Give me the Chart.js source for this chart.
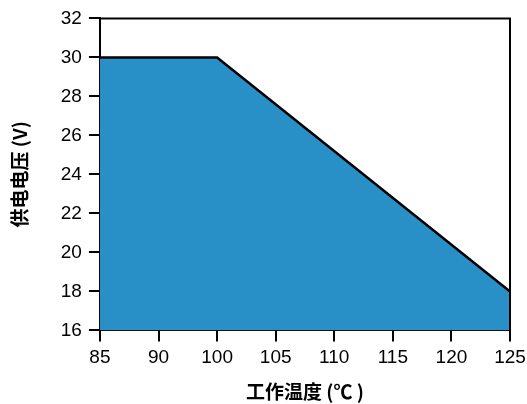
<!DOCTYPE html>
<html>
<head>
<meta charset="utf-8">
<script src="https://cdn.jsdelivr.net/npm/chart.js@4.4.0/dist/chart.umd.min.js"></script>
<style>
  body { margin: 0; background: #fff; }
  #wrap { width: 527px; height: 404px; }
</style>
</head>
<body>
<div id="wrap"><canvas id="grafico"></canvas></div>
<script>
// temperatura (categorias do eixo x)
var temperaturas = ['85', '90', '100', '105', '110', '115', '120', '125'];
// pontos da curva de tensão
var pontosTemp = ['85', '100', '125'];
var pontosTensao = [30, 30, 18];
var yMin = 16, yMax = 32, yPasso = 2;

var dados = [];
for (var i = 0; i < pontosTemp.length; i++) {
    dados.push({ x: pontosTemp[i], y: pontosTensao[i] });
}

// moldura (topo e direita)
var moldura = {
    id: 'moldura',
    afterDraw: function (chart) {
        var a = chart.chartArea;
        var ctx = chart.ctx;
        ctx.save();
        ctx.strokeStyle = '#000';
        ctx.lineWidth = 2;
        ctx.beginPath();
        ctx.moveTo(a.left, a.top);
        ctx.lineTo(a.right, a.top);
        ctx.lineTo(a.right, a.bottom);
        ctx.stroke();
        ctx.restore();
    }
};

var fonteTick = { family: "'Liberation Sans', Arial, sans-serif", size: 19 };
var fonteTitulo = { family: "'Noto Sans CJK SC', sans-serif", size: 19, weight: 'bold' };

const ctx = document.getElementById('grafico').getContext('2d');
const myChart = new Chart(ctx, {
    type: 'line',
    data: {
        labels: temperaturas,
        datasets: [{
            data: dados,
            borderColor: '#000',
            borderWidth: 2.5,
            backgroundColor: '#2990c7',
            fill: 'start',
            pointRadius: 0,
            tension: 0
        }]
    },
    options: {
        responsive: true,
        maintainAspectRatio: false,
        animation: false,
        layout: { padding: { top: 8, right: 4, bottom: 1, left: 8 } },
        plugins: { legend: { display: false }, tooltip: { enabled: false } },
        scales: {
            x: {
                type: 'category',
                offset: false,
                afterFit: function (s) { s.paddingRight = 17; },
                grid: { display: true, drawOnChartArea: false, drawTicks: true, tickLength: 11, color: '#000', lineWidth: 2 },
                border: { color: '#000', width: 2 },
                ticks: { color: '#000', font: fonteTick, padding: 5, maxRotation: 0, autoSkip: false },
                title: { display: true, text: '工作温度 (℃ )', color: '#000', font: fonteTitulo, padding: { top: 6, bottom: 0 } }
            },
            y: {
                min: yMin,
                max: yMax,
                grid: { display: true, drawOnChartArea: false, drawTicks: true, tickLength: 11, color: '#000', lineWidth: 2 },
                border: { color: '#000', width: 2 },
                ticks: { color: '#000', font: fonteTick, stepSize: yPasso, padding: 7 },
                title: { display: true, text: '供电电压 (V)', color: '#000', font: fonteTitulo, padding: { top: 0, bottom: 23 } }
            }
        }
    },
    plugins: [moldura]
});
</script>
</body>
</html>
